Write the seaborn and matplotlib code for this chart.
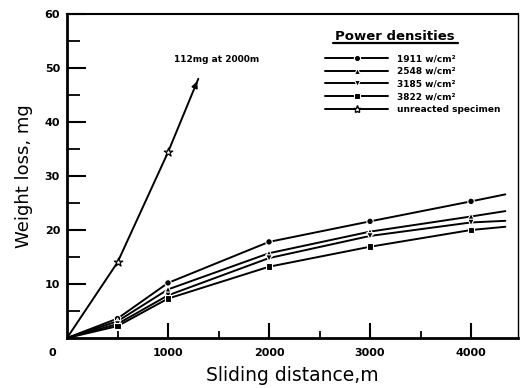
import matplotlib
matplotlib.use("Agg")
import matplotlib.pyplot as plt
import seaborn as sns
import pandas as pd
from matplotlib.lines import Line2D

# ---- data ----
distance = [0, 500, 1000, 2000, 3000, 4000]
wl_1911 = [0, 3.6, 10.2, 17.8, 21.6, 25.3]
wl_2548 = [0, 3.1, 9.0, 15.7, 19.7, 22.5]
wl_3185 = [0, 2.6, 7.9, 14.8, 18.9, 21.4]
wl_3822 = [0, 2.2, 7.3, 13.2, 16.9, 20.0]
line_end_x = 4340
line_end_y = [26.6, 23.5, 21.7, 20.6]
unreacted_x = [0, 500, 1000]
unreacted_y = [0, 14.0, 34.4]
unreacted_end_x = 1300
unreacted_end_y = 48.0
series_labels = ["1911 w/cm²", "2548 w/cm²", "3185 w/cm²", "3822 w/cm²",
                 "unreacted specimen"]
annotation_text = "112mg at 2000m"
annotation_pos = (1480, 50.8)
xticks = [1000, 2000, 3000, 4000]
yticks = [10, 20, 30, 40, 50, 60]

# ---- build table ----
rows = []
for lab, ys, ye in zip(series_labels[:4], [wl_1911, wl_2548, wl_3185, wl_3822], line_end_y):
    for x, y in zip(distance, ys):
        rows.append(dict(series=lab, d=x, w=y, measured=True))
    rows.append(dict(series=lab, d=line_end_x, w=ye, measured=False))
for x, y in zip(unreacted_x, unreacted_y):
    rows.append(dict(series=series_labels[4], d=x, w=y, measured=True))
rows.append(dict(series=series_labels[4], d=unreacted_end_x, w=unreacted_end_y, measured=False))
df = pd.DataFrame(rows)

markers = {series_labels[0]: "o", series_labels[1]: "^", series_labels[2]: "v",
           series_labels[3]: "s", series_labels[4]: "*"}
palette = {s: "black" for s in series_labels}

sns.set_style("white")
plt.rcParams["font.family"] = ["DejaVu Sans"]
plt.rcParams["text.color"] = "black"
plt.rcParams["axes.labelcolor"] = "black"
plt.rcParams["xtick.color"] = "black"
plt.rcParams["ytick.color"] = "black"

fig = plt.figure(figsize=(5.2, 3.88), dpi=100)
ax = fig.add_axes([67 / 520, 1 - 338 / 388, (518 - 67) / 520, (338 - 14) / 388])

sns.lineplot(data=df, x="d", y="w", hue="series", palette=palette, units="series",
             estimator=None, sort=False, legend=False, linewidth=1.4, ax=ax, zorder=2)

meas = df[df["measured"] & (df["d"] > 0)]
main = meas[meas["series"] != series_labels[4]]
unr = meas[meas["series"] == series_labels[4]]
sns.scatterplot(data=main, x="d", y="w", style="series", markers=markers,
                hue="series", palette=palette, s=22, edgecolor="white",
                linewidth=0.8, legend=False, ax=ax, zorder=3)
ax.scatter(unr["d"], unr["w"], marker="*", s=40, facecolor="white",
           edgecolor="black", linewidth=0.9, zorder=3)

# arrow head at the end of unreacted line
ux = list(unreacted_x) + [unreacted_end_x]
uy = list(unreacted_y) + [unreacted_end_y]
ax.annotate("", xy=(ux[-1], uy[-1]),
            xytext=(ux[-1] - (ux[-1] - ux[-2]) * 0.15, uy[-1] - (uy[-1] - uy[-2]) * 0.15),
            arrowprops=dict(arrowstyle="-|>", color="black", lw=1.2, mutation_scale=9))
ax.text(annotation_pos[0], annotation_pos[1], annotation_text, fontsize=6.5,
        fontweight="bold", ha="center", va="bottom", color="black")

ax.set_xlim(0, 4465)
ax.set_ylim(0, 60)
ax.set_xticks(xticks)
ax.set_xticks([500, 1500, 2500, 3500], minor=True)
ax.set_yticks(yticks)
ax.set_yticks([5, 15, 25, 35, 45, 55], minor=True)
ax.set_xticklabels([str(t) for t in xticks], fontsize=8, fontweight="bold")
ax.set_yticklabels([str(t) for t in yticks], fontsize=8, fontweight="bold")
ax.tick_params(axis="y", which="major", direction="in", length=14, width=1.5, pad=5, left=True)
ax.tick_params(axis="y", which="minor", direction="in", length=9, width=1.3, left=True)
ax.tick_params(axis="x", which="major", direction="in", length=11, width=1.5, pad=7, bottom=True)
ax.tick_params(axis="x", which="minor", direction="in", length=5, width=1.3, bottom=True)
ax.text(-0.032, -0.045, "0", transform=ax.transAxes, fontsize=8, fontweight="bold",
        ha="center", va="center", color="black")

ax.set_xlabel("Sliding distance,m", fontsize=13.5, labelpad=6)
ax.set_ylabel("Weight loss, mg", fontsize=13, labelpad=8)

for side, lw in [("left", 2.0), ("bottom", 2.0), ("top", 1.5), ("right", 1.0)]:
    ax.spines[side].set_visible(True)
    ax.spines[side].set_linewidth(lw)
    ax.spines[side].set_color("black")

# legend
handles = []
for lab in series_labels:
    m = markers[lab]
    if m == "*":
        h = Line2D([0], [0], color="black", lw=1.4, marker="*", markersize=6,
                   markerfacecolor="white", markeredgecolor="black")
    else:
        h = Line2D([0], [0], color="black", lw=1.4, marker=m, markersize=4.5,
                   markerfacecolor="black", markeredgecolor="white", markeredgewidth=0.8)
    handles.append(h)
leg = ax.legend(handles, series_labels, loc="upper left",
                bbox_to_anchor=(325 / 520, 1 - 54 / 388), bbox_transform=fig.transFigure,
                frameon=False, prop=dict(size=6.5, weight="bold"), handlelength=7.0,
                handletextpad=1.0, labelspacing=0.42, borderpad=0, borderaxespad=0)
for t in leg.get_texts():
    t.set_color("black")
fig.text(335 / 520, 1 - 36 / 388, "Power densities", fontsize=9.5, fontweight="semibold",
         ha="left", va="center", color="black")
fig.add_artist(Line2D([333 / 520, 458 / 520], [1 - 43 / 388, 1 - 43 / 388],
                      color="black", lw=1.6, transform=fig.transFigure))

fig.savefig("out.png", dpi=100)
